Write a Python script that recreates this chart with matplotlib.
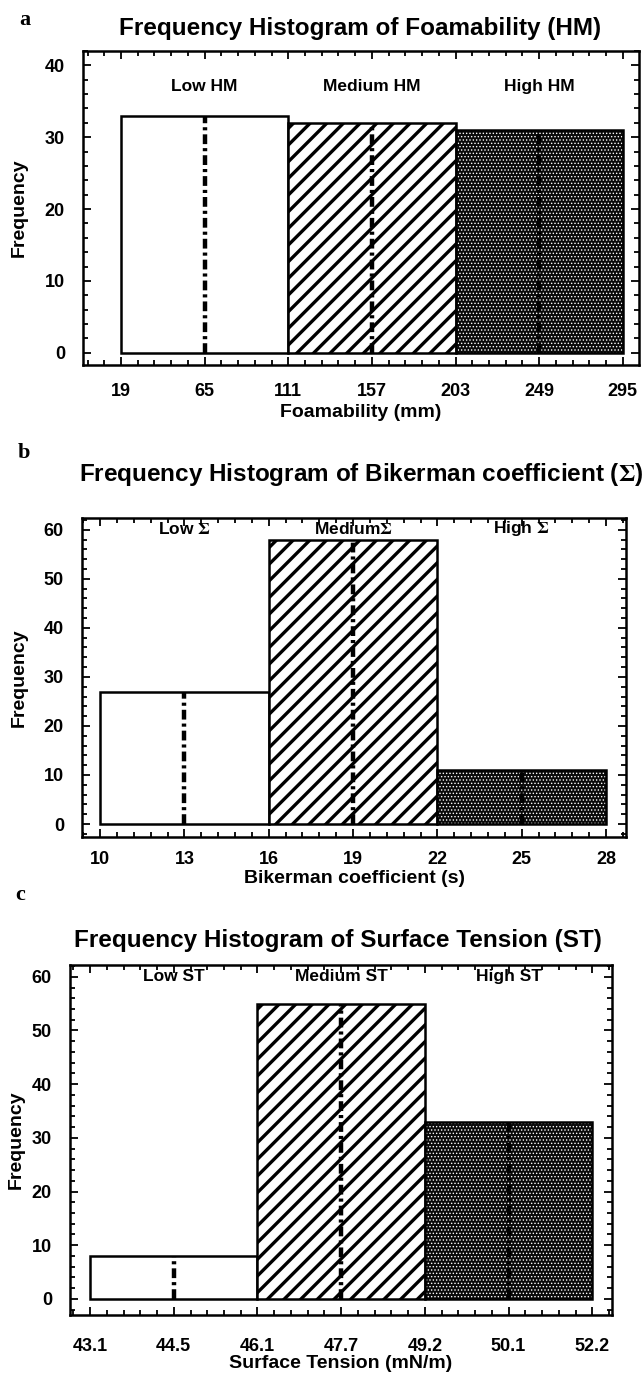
import numpy as np
import matplotlib
matplotlib.use('Agg')
import matplotlib.pyplot as plt
from matplotlib.ticker import MultipleLocator

plt.rcParams['font.family'] = ['Liberation Sans', 'DejaVu Sans']
plt.rcParams['font.weight'] = 'bold'
plt.rcParams['axes.labelweight'] = 'bold'
plt.rcParams['mathtext.fontset'] = 'stix'

# 数据: 三个分组的频数
hm_counts = [33, 32, 31]
hm_ticks = ['19', '65', '111', '157', '203', '249', '295']
hm_names = ['Low HM', 'Medium HM', 'High HM']

bk_counts = [27, 58, 11]
bk_ticks = ['10', '13', '16', '19', '22', '25', '28']
bk_names = [r'Low $\Sigma$', r'Medium$\Sigma$', r'High $\Sigma$']

st_counts = [8, 55, 33]
st_ticks = ['43.1', '44.5', '46.1', '47.7', '49.2', '50.1', '52.2']
st_names = ['Low ST', 'Medium ST', 'High ST']

W, H = 642, 1376
fig = plt.figure(figsize=(W / 100, H / 100), dpi=100)


def box(left, right, top, bottom):
    return [left / W, 1 - bottom / H, (right - left) / W, (bottom - top) / H]


def set_hatch_lw(bars, lw):
    for p in bars:
        if hasattr(p, 'set_hatch_linewidth'):
            p.set_hatch_linewidth(lw)


def draw(ax, counts, ticks, names, xlim, ylim, ymax, name_y, xpad, xlabel, xlabel_y):
    x = np.arange(len(counts))
    # 低: 白色
    ax.bar(x[0], counts[0], width=1, align='edge', facecolor='white',
           edgecolor='black', lw=1.8, zorder=2)
    # 中: 斜线
    with plt.rc_context({'hatch.linewidth': 2.4}):
        b = ax.bar(x[1], counts[1], width=1, align='edge', facecolor='white',
                   edgecolor='black', hatch='//', lw=1.8, zorder=2)
    set_hatch_lw(b, 2.4)
    # 高: 网点
    with plt.rc_context({'hatch.linewidth': 0.6}):
        b = ax.bar(x[2], counts[2], width=1, align='edge', facecolor='#0a0a0a',
                   edgecolor='white', hatch='.....', lw=0, zorder=2)
    set_hatch_lw(b, 0.6)
    ax.bar(x[2], counts[2], width=1, align='edge', fill=False,
           edgecolor='black', lw=1.8, zorder=3)
    # 均值线
    ax.vlines(x + 0.5, 0, counts, colors='black', lw=3.2,
              linestyles=[(0, (2.2, 0.9, 0.7, 0.9))], zorder=4)
    for xi, n in zip(x, names):
        ax.text(xi + 0.5, name_y, n, ha='center', va='center', fontsize=12.5)

    ax.set_xlim(*xlim)
    ax.set_ylim(*ylim)
    ax.set_xticks(np.arange(0, 3.01, 0.5))
    ax.set_xticklabels(ticks)
    ax.xaxis.set_minor_locator(MultipleLocator(0.1))
    ax.set_yticks(np.arange(0, ymax + 1, 10))
    ax.yaxis.set_minor_locator(MultipleLocator(2))
    ax.tick_params(which='both', direction='in', top=True, right=True, width=1.3)
    ax.tick_params(which='major', length=6, labelsize=13)
    ax.tick_params(which='minor', length=3.5)
    ax.tick_params(axis='y', pad=13)
    ax.tick_params(axis='x', pad=xpad)
    for s in ax.spines.values():
        s.set_linewidth(1.8)
    ax.set_ylabel('Frequency', fontsize=14)
    ax.set_xlabel(xlabel, fontsize=14)
    ax.xaxis.set_label_coords(0.5, xlabel_y)


# a
ax1 = fig.add_axes(box(83, 639, 51, 365))
draw(ax1, hm_counts, hm_ticks, hm_names, (-0.227, 3.097), (-1.7, 42), 40, 37.1,
     13, 'Foamability (mm)', -0.124)
ax1.yaxis.set_label_coords(-0.099, 0.5)

# b
ax2 = fig.add_axes(box(82, 626, 518, 837))
draw(ax2, bk_counts, bk_ticks, bk_names, (-0.107, 3.118), (-2.65, 62.4), 60, 60.2,
     10, 'Bikerman coefficient (s)', -0.103)
ax2.yaxis.set_label_coords(-0.099, 0.5)

# c
ax3 = fig.add_axes(box(70, 612, 965, 1315))
draw(ax3, st_counts, st_ticks, st_names, (-0.12, 3.118), (-3.0, 62.2), 60, 60,
     16.5, 'Surface Tension (mN/m)', -0.114)
ax3.yaxis.set_label_coords(-0.083, 0.5)

# 标题
fig.text(360 / W, 1 - 28 / H, 'Frequency Histogram of Foamability (HM)',
         ha='center', va='center', fontsize=17.5)
fig.text(361 / W, 1 - 475 / H, r'Frequency Histogram of Bikerman coefficient ($\Sigma$)',
         ha='center', va='center', fontsize=17.5)
fig.text(338 / W, 1 - 940 / H, 'Frequency Histogram of Surface Tension (ST)',
         ha='center', va='center', fontsize=17.5)
for lab, (px, py) in zip('abc', [(25, 20), (24, 453), (20, 895)]):
    fig.text(px / W, 1 - py / H, lab, ha='center', va='center', fontsize=16,
             family='Liberation Serif', weight='bold')

fig.savefig('out.png', dpi=100)
